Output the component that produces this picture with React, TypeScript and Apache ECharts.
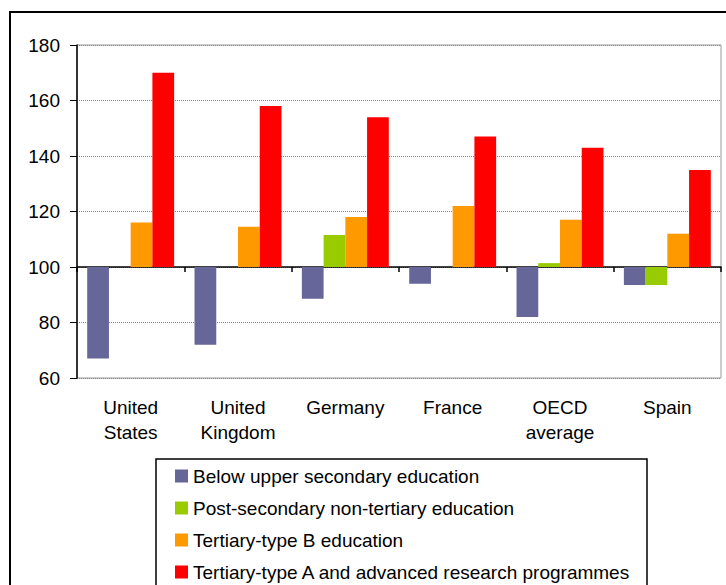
import React, { useEffect, useRef } from "react";
import * as echarts from "echarts";

const categories = ["United\nStates", "United\nKingdom", "Germany", "France", "OECD\naverage", "Spain"];
const seriesNames = [
  "Below upper secondary education",
  "Post-secondary non-tertiary education",
  "Tertiary-type B education",
  "Tertiary-type A and advanced research programmes",
];
const belowUpperSecondary = [67, 72, 88.6, 94, 82, 93.5];
const postSecondaryNonTertiary: (number | null)[] = [null, null, 111.5, null, 101.4, 93.5];
const tertiaryB = [116, 114.5, 118, 122, 117, 112];
const tertiaryA = [170, 158, 154, 147, 143, 135];
const colors = ["#666699", "#99CC00", "#FF9900", "#FF0000"];
const BASE = 100;
const yTicks = { min: 60, max: 180, interval: 20 };

export default function App() {
  const ref = useRef<HTMLDivElement>(null);
  useEffect(() => {
    if (!ref.current) return;
    const chart = echarts.init(ref.current, null, { renderer: "svg" });
    const all = [belowUpperSecondary, postSecondaryNonTertiary, tertiaryB, tertiaryA];
    const font = "Liberation Sans, Arial, sans-serif";
    chart.setOption({
      animation: false,
      textStyle: { fontFamily: font },
      grid: {
        left: 77,
        right: 5,
        top: 45,
        bottom: 207,
        show: true,
        borderColor: "#999",
        borderWidth: 1,
      },
      legend: {
        orient: "vertical",
        left: 175,
        top: 465,
        itemWidth: 13,
        itemHeight: 13,
        itemGap: 10,
        icon: "rect",
        padding: 0,
        textStyle: { color: "#000", fontSize: 19, fontFamily: font, lineHeight: 22 },
        data: seriesNames,
      },
      xAxis: [
        {
          type: "category",
          data: categories,
          position: "bottom",
          axisLine: { onZero: true, lineStyle: { color: "#000", width: 1.5 } },
          axisTick: { show: true, length: 5, lineStyle: { color: "#000", width: 1.5 } },
          axisLabel: { show: false },
        },
        {
          type: "category",
          data: categories,
          position: "bottom",
          axisLine: { show: false, onZero: false },
          axisTick: { show: false },
          axisLabel: {
            show: true,
            color: "#000",
            fontSize: 19,
            lineHeight: 25,
            margin: 17,
            fontFamily: font,
          },
        },
      ],
      yAxis: {
        type: "value",
        min: yTicks.min - BASE,
        max: yTicks.max - BASE,
        interval: yTicks.interval,
        axisLine: { show: true, lineStyle: { color: "#000", width: 1.5 } },
        axisTick: { show: true, length: 7, lineStyle: { color: "#000" } },
        axisLabel: {
          color: "#000",
          fontSize: 19,
          margin: 17,
          fontFamily: font,
          formatter: (v: number) => String(v + BASE),
        },
        splitLine: { show: true, lineStyle: { color: "#888", type: "dotted", width: 1 } },
      },
      graphic: [
        {
          type: "rect",
          shape: { x: 10, y: 12, width: 900, height: 900 },
          style: { fill: "none", stroke: "#000", lineWidth: 2 },
          silent: true,
        },
        {
          type: "rect",
          shape: { x: 156, y: 459, width: 491, height: 200 },
          style: { fill: "none", stroke: "#000", lineWidth: 1.5 },
          silent: true,
        },
      ],
      series: all.map((arr, i) => ({
        name: seriesNames[i],
        type: "bar",
        xAxisIndex: 0,
        barGap: "0%",
        barCategoryGap: "19%",
        itemStyle: { color: colors[i] },
        data: arr.map((v) => (v == null ? null : v - BASE)),
      })),
    });
    return () => chart.dispose();
  }, []);
  return (
    <div
      ref={ref}
      style={{ position: "absolute", left: 0, top: 0, width: 726, height: 585, background: "#fff" }}
    />
  );
}
